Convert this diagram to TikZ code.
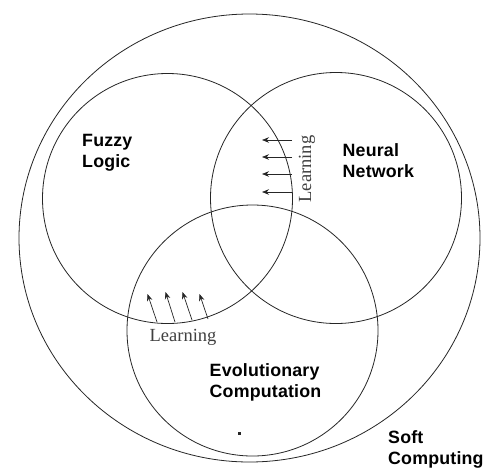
\documentclass[tikz,border=0pt]{standalone}
\usepackage{fontspec}
\usetikzlibrary{arrows.meta,shapes.geometric}
\newfontfamily\labfont[LetterSpace=1]{Liberation Sans}
\newfontfamily\learnfont{Liberation Serif}
\begin{document}
\begin{tikzpicture}[x=1pt,y=-1pt,
  ring/.style={draw=black!85, line width=0.8pt, circle, inner sep=0pt},
  area/.style={font=\labfont\bfseries\fontsize{17.8}{21}\selectfont, align=left, anchor=base west, inner sep=0pt},
  learn/.style={font=\learnfont\fontsize{18.5}{20}\selectfont, text=black!75, inner sep=0pt},
  flow/.style={draw=black!85, line width=0.7pt, -{Stealth[length=7pt,width=5.5pt]}}]
\useasboundingbox (0,0) rectangle (489,469);
\fill[white] (0,0) rectangle (489,469);

% the whole field and the three overlapping disciplines
\node[ring, ellipse, minimum width=461pt, minimum height=448pt] (soft) at (249.5,238) {};
\node[ring, minimum size=250pt] (fuzzy) at (167.5,198.5) {};
\node[ring, minimum size=251pt] (neural) at (336,198) {};
\node[ring, minimum size=251pt] (evo) at (252.5,330.5) {};

% labels (anchored on the baseline of their last line)
\node[area] (fuzzylab) at (82,167) {Fuzzy\\Logic};
\node[area] (neurallab) at (342.5,177) {Neural\\Network};
\node[area] (evolab) at (209.5,397) {Evolutionary\\Computation};
\node[area] (softlab) at (388,464.5) {Soft\\Computing};

% learning from neural networks into fuzzy logic
\node[learn, rotate=90] (learnA) at (307,169) {Learning};
\foreach \i/\y in {1/140,2/157,3/174,4/192}{
  \coordinate (a\i) at (292,\y);
  \coordinate (b\i) at (262,\y);
  \draw[flow] (a\i) -- (b\i);
}

% learning from evolutionary computation into fuzzy logic
\node[learn] (learnB) at (183,337) {Learning};
\foreach \i/\tx/\ty/\hx/\hy in {1/157/322/147.5/294, 2/175/322/165.5/292, 3/192/320/182.5/292, 4/208/319/199.5/294}{
  \coordinate (c\i) at (\tx,\ty);
  \coordinate (d\i) at (\hx,\hy);
  \draw[flow] (c\i) -- (d\i);
}

% stray mark inside the evolutionary circle
\fill[black!85] (238,432) rectangle (241,434.5);
\end{tikzpicture}
\end{document}
